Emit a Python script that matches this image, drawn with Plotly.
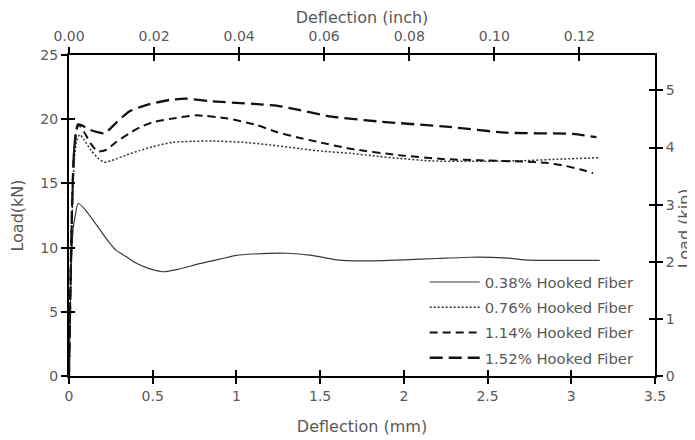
import plotly.graph_objects as go

# ---------------- data ----------------
x_038 = [0, 0.005, 0.015, 0.025, 0.035, 0.055, 0.10, 0.14, 0.19, 0.24, 0.28, 0.34, 0.40, 0.47, 0.56,
         0.65, 0.78, 0.90, 1.0, 1.1, 1.3, 1.45, 1.6, 1.75, 2.0, 2.2, 2.4, 2.6, 2.75, 2.9, 3.17]
y_038 = [0, 4, 9, 11.5, 12.3, 13.45, 12.9, 12.2, 11.3, 10.4, 9.8, 9.3, 8.8, 8.4, 8.12,
         8.3, 8.75, 9.1, 9.4, 9.5, 9.56, 9.4, 9.05, 8.97, 9.05, 9.15, 9.25, 9.2, 9.02, 9.0, 9.0]

x_076 = [0, 0.01, 0.02, 0.03, 0.045, 0.064, 0.09, 0.13, 0.17, 0.21, 0.27, 0.34, 0.42, 0.50, 0.62,
         0.74, 0.86, 1.04, 1.2, 1.38, 1.52, 1.68, 1.85, 1.97, 2.17, 2.4, 2.71, 2.95, 3.17]
y_076 = [0, 7, 13, 16.5, 18.3, 18.8, 18.4, 17.6, 17.0, 16.65, 16.85, 17.2, 17.55, 17.86, 18.2,
         18.28, 18.3, 18.2, 18.0, 17.7, 17.5, 17.34, 17.1, 16.95, 16.75, 16.72, 16.77, 16.9, 17.0]

x_114 = [0, 0.01, 0.02, 0.03, 0.045, 0.06, 0.09, 0.13, 0.17, 0.22, 0.28, 0.36, 0.43, 0.50, 0.64,
         0.76, 0.94, 1.12, 1.24, 1.36, 1.48, 1.68, 1.97, 2.23, 2.45, 2.71, 2.85, 2.97, 3.05, 3.13]
y_114 = [0, 8, 14, 17.5, 19.2, 19.55, 19.0, 18.1, 17.5, 17.6, 18.2, 18.9, 19.4, 19.76, 20.1,
         20.3, 20.07, 19.55, 19.0, 18.6, 18.25, 17.7, 17.2, 16.9, 16.8, 16.7, 16.6, 16.35, 16.1, 15.8]

x_152 = [0, 0.01, 0.02, 0.03, 0.042, 0.054, 0.08, 0.12, 0.17, 0.213, 0.28, 0.36, 0.46, 0.60, 0.70,
         0.84, 1.10, 1.24, 1.38, 1.57, 1.87, 2.27, 2.61, 3.01, 3.15]
y_152 = [0, 8, 14, 17.5, 19.0, 19.6, 19.5, 19.2, 19.0, 18.9, 19.7, 20.6, 21.1, 21.5, 21.6,
         21.4, 21.2, 21.05, 20.7, 20.2, 19.8, 19.4, 18.95, 18.85, 18.6]

series_names = ["0.38% Hooked Fiber", "0.76% Hooked Fiber", "1.14% Hooked Fiber", "1.52% Hooked Fiber"]

MM_PER_INCH = 25.4
KN_PER_KIP = 4.448
X_MAX_MM = 3.5
Y_MAX_KN = 25
inch_ticks = [0.00, 0.02, 0.04, 0.06, 0.08, 0.10, 0.12]
kip_ticks = [0, 1, 2, 3, 4, 5]

# ---------------- figure ----------------
FONT = "DejaVu Sans"
GREY = "#595959"

styles = [
    dict(color="#3a3a3a", width=1.2, dash="solid"),
    dict(color="#333333", width=1.5, dash="2px,2px"),
    dict(color="#111111", width=2.0, dash="8px,5px"),
    dict(color="#111111", width=2.3, dash="13px,6px"),
]
xs = [x_038, x_076, x_114, x_152]
ys = [y_038, y_076, y_114, y_152]

fig = go.Figure()
for i in range(4):
    fig.add_trace(go.Scatter(
        x=xs[i], y=ys[i], mode="lines", name=series_names[i],
        line=dict(shape="spline", smoothing=0.6, **styles[i]),
        legendgroup=f"g{i}",
        xaxis="x", yaxis="y",
    ))

# empty traces so that the secondary / tick-only axes get drawn
for xa, ya in [("x2", "y2"), ("x3", "y3"), ("x4", "y4")]:
    fig.add_trace(go.Scatter(x=[], y=[], xaxis=xa, yaxis=ya, showlegend=False,
                             hoverinfo="skip", mode="lines"))

axis_common = dict(showgrid=False, zeroline=False, linecolor="black", linewidth=2,
                   tickcolor="black", tickwidth=1.5, ticklen=6, automargin=False,
                   tickfont=dict(family=FONT, size=14, color=GREY))
title_font = dict(family=FONT, size=16, color=GREY)

fig.update_layout(
    width=695, height=440,
    margin=dict(l=61, r=47.5, t=47, b=72),
    paper_bgcolor="white", plot_bgcolor="white",
    font=dict(family=FONT, color=GREY),
    showlegend=True,
    legend=dict(x=0.607, y=0.343, xanchor="left", yanchor="top",
                bgcolor="rgba(0,0,0,0)", font=dict(family=FONT, size=14.8, color=GREY),
                tracegroupgap=3, itemwidth=50),
    xaxis=dict(range=[0, X_MAX_MM], dtick=0.5, tick0=0, ticks="outside", showline=True,
               title=dict(text="Deflection (mm)", font=title_font, standoff=18),
               anchor="y", **axis_common),
    xaxis2=dict(range=[0, X_MAX_MM / MM_PER_INCH], tickvals=inch_ticks, tickformat=".2f",
                ticks="outside", showline=True, side="top", overlaying="x", anchor="y",
                title=dict(text="Deflection (inch)", font=title_font, standoff=1),
                **axis_common),
    xaxis3=dict(range=[0, X_MAX_MM], dtick=0.5, tick0=0, ticks="inside", showline=False,
                showticklabels=False, side="bottom", overlaying="x", anchor="y", **axis_common),
    xaxis4=dict(range=[0, X_MAX_MM / MM_PER_INCH], tickvals=inch_ticks, ticks="inside",
                showline=False, showticklabels=False, side="top", overlaying="x", anchor="y",
                **axis_common),
    yaxis=dict(range=[0, Y_MAX_KN], dtick=5, tick0=0, ticks="outside", showline=True,
               title=dict(text="Load(kN)", font=title_font, standoff=13),
               anchor="x", **axis_common),
    yaxis2=dict(range=[0, Y_MAX_KN / KN_PER_KIP], tickvals=kip_ticks, ticks="outside",
                showline=True, side="right", overlaying="y", anchor="x",
                **axis_common),
    yaxis3=dict(range=[0, Y_MAX_KN], dtick=5, tick0=0, ticks="inside", showline=False,
                showticklabels=False, side="left", overlaying="y", anchor="x", **axis_common),
    yaxis4=dict(range=[0, Y_MAX_KN / KN_PER_KIP], tickvals=kip_ticks, ticks="inside",
                showline=False, showticklabels=False, side="right", overlaying="y", anchor="x",
                **axis_common),
    annotations=[dict(text="Load (kip)", xref="paper", yref="paper", x=1, y=0.46,
                      xanchor="center", yanchor="middle", xshift=29, textangle=-90,
                      showarrow=False, font=title_font)],
)

fig.write_html("out.html")
